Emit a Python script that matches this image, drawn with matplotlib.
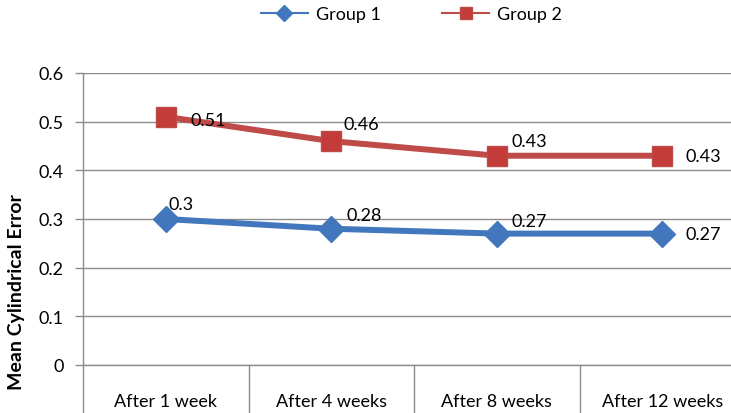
import numpy as np
import matplotlib
matplotlib.use("Agg")
import matplotlib.pyplot as plt
from matplotlib.lines import Line2D

plt.rcParams['font.family'] = ['Lato', 'DejaVu Sans']

categories = ['After 1 week', 'After 4 weeks', 'After 8 weeks', 'After 12 weeks']
group1 = [0.30, 0.28, 0.27, 0.27]
group2 = [0.51, 0.46, 0.43, 0.43]

# label offsets in pixels (dx, dy)
off1 = [(3, 15), (15, 14), (15, 13), (23, 0)]
off2 = [(25, -3), (12, 17), (15, 15), (23, 0)]

blue = '#4377BD'
red = '#BE4B48'
grid_col = '#8C8C8C'
fs = 13

fig = plt.figure(figsize=(7.31, 4.14), dpi=100)
ax = fig.add_axes([83/731, 48/414, 662/731, 292/414])

x = np.arange(len(categories))
ax.plot(x, group1, color=blue, lw=4.3, marker='D', ms=13, mfc=blue, mec=blue, zorder=3)
ax.plot(x, group2, color=red, lw=4.3, marker='s', ms=15, mfc='#C43C39', mec=red, zorder=3)

for i in range(len(x)):
    ax.annotate(str(group1[i]), (x[i], group1[i]), xytext=off1[i],
                textcoords='offset pixels', ha='left', va='center', fontsize=fs)
    ax.annotate(str(group2[i]), (x[i], group2[i]), xytext=off2[i],
                textcoords='offset pixels', ha='left', va='center', fontsize=fs)

ax.set_xlim(-0.5, 3.5)
ax.set_ylim(0, 0.6)
ax.set_yticks(np.arange(0, 0.61, 0.1))
ax.set_yticklabels(['0', '0.1', '0.2', '0.3', '0.4', '0.5', '0.6'], fontsize=fs)
ax.yaxis.grid(True, color=grid_col, lw=1)
ax.set_axisbelow(True)

# category dividers as long ticks, labels on minor ticks
ax.set_xticks(np.arange(-0.5, 4.0, 1.0))
ax.set_xticklabels([])
ax.tick_params(axis='x', which='major', length=36, width=1, color=grid_col, direction='out')
ax.set_xticks(x, minor=True)
ax.set_xticklabels(categories, minor=True, fontsize=fs)
ax.tick_params(axis='x', which='minor', length=0, pad=20)
ax.tick_params(axis='y', length=6, width=1, color=grid_col, pad=8)

for s in ['top', 'right']:
    ax.spines[s].set_visible(False)
for s in ['left', 'bottom']:
    ax.spines[s].set_color(grid_col)
    ax.spines[s].set_linewidth(1)

fig.text(17/731, 1 - 292/414, 'Mean Cylindrical Error', rotation=90, ha='center',
         va='center', fontsize=14, fontweight='bold')

handles = [Line2D([], [], color=blue, lw=1.5, marker='D', ms=8, mfc=blue, mec=blue),
           Line2D([], [], color=red, lw=1.5, marker='s', ms=8, mfc='#C43C39', mec=red)]
fig.legend(handles, ['Group 1', 'Group 2'], loc='center',
           bbox_to_anchor=(0.563, 1 - 15/414), ncol=2, frameon=False,
           fontsize=fs, handlelength=2.6, handletextpad=0.45, columnspacing=3.4)

plt.savefig('out.png', dpi=100)
